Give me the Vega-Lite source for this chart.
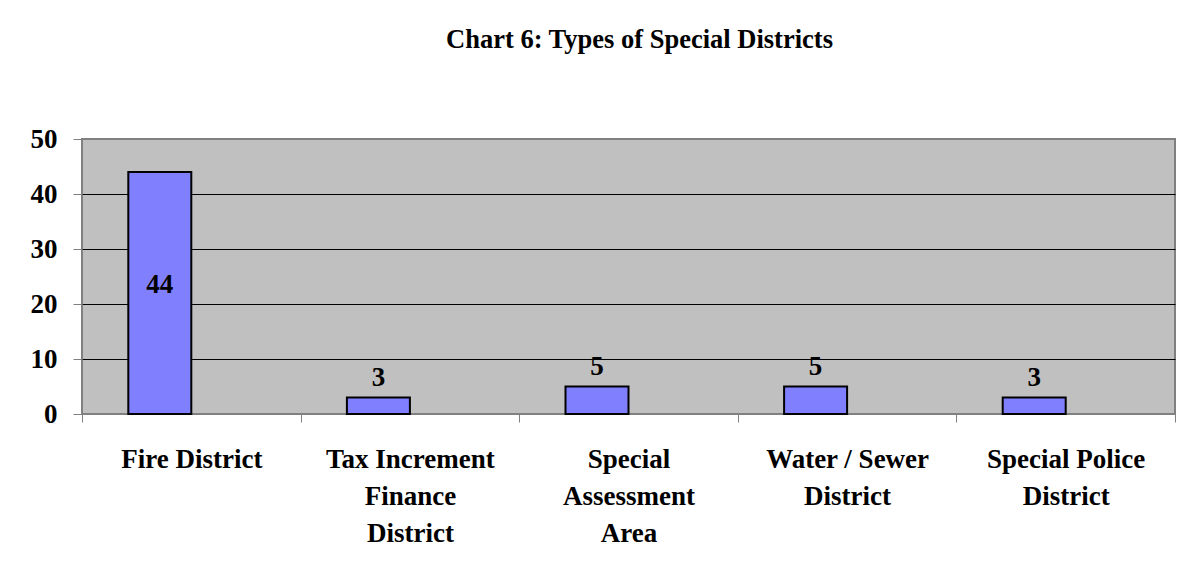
{
  "$schema": "https://vega.github.io/schema/vega-lite/v6.json",
  "width": 1093,
  "height": 275,
  "autosize": "none",
  "padding": {"left": 82, "top": 139, "right": 10, "bottom": 151},
  "background": "white",
  "title": {
    "text": "Chart 6:  Types of Special Districts",
    "font": "Liberation Serif",
    "fontSize": 26.5,
    "fontWeight": "bold",
    "color": "black",
    "anchor": "middle",
    "baseline": "alphabetic",
    "offset": 51,
    "dx": 11
  },
  "data": {
    "values": [
      {"district": "Fire District", "series": "Series 1", "count": 44},
      {"district": "Tax Increment Finance District", "series": "Series 1", "count": 3},
      {"district": "Special Assessment Area", "series": "Series 1", "count": 5},
      {"district": "Water / Sewer District", "series": "Series 1", "count": 5},
      {"district": "Special Police District", "series": "Series 1", "count": 3}
    ]
  },
  "encoding": {
    "x": {
      "field": "district",
      "type": "nominal",
      "sort": null,
      "scale": {"paddingInner": 0, "paddingOuter": 0},
      "axis": {
        "title": null,
        "domain": false,
        "tickBand": "extent",
        "tickSize": 8,
        "tickColor": "#808080",
        "tickWidth": 1,
        "labelAngle": 0,
        "labelFont": "Liberation Serif",
        "labelFontSize": 27,
        "labelFontWeight": "bold",
        "labelColor": "black",
        "labelPadding": 24,
        "labelLineHeight": 37,
        "labelBaseline": "top",
        "labelLimit": 400,
        "labelOverlap": false,
        "labelBound": false,
        "labelExpr": "datum.value == 'Tax Increment Finance District' ? ['Tax Increment','Finance','District'] : datum.value == 'Special Assessment Area' ? ['Special','Assessment','Area'] : datum.value == 'Water / Sewer District' ? ['Water / Sewer','District'] : datum.value == 'Special Police District' ? ['Special Police','District'] : datum.label"
      }
    },
    "xOffset": {
      "field": "series",
      "type": "nominal",
      "scale": {"domain": ["Series 1", "Series 2"], "paddingInner": 0, "paddingOuter": 0.735}
    },
    "y": {
      "field": "count",
      "type": "quantitative",
      "scale": {"domain": [0, 50], "nice": false},
      "axis": {
        "title": null,
        "values": [0, 10, 20, 30, 40, 50],
        "domain": false,
        "tickSize": 9,
        "tickColor": "#808080",
        "tickWidth": 1,
        "labelFont": "Liberation Serif",
        "labelFontSize": 27,
        "labelFontWeight": "bold",
        "labelColor": "black",
        "labelPadding": 16,
        "grid": true,
        "gridColor": "black",
        "gridWidth": 1,
        "gridOpacity": {"condition": {"test": "datum.value === 0 || datum.value === 50", "value": 0}, "value": 1}
      }
    }
  },
  "layer": [
    {"mark": {"type": "bar", "fill": "#8080FF", "stroke": "black", "strokeWidth": 2}},
    {
      "transform": [{"filter": "datum.count >= 20"}],
      "mark": {"type": "text", "baseline": "middle", "align": "center", "dy": 113, "font": "Liberation Serif", "fontSize": 27, "fontWeight": "bold", "color": "black"},
      "encoding": {"text": {"field": "count", "type": "quantitative"}}
    },
    {
      "transform": [{"filter": "datum.count < 20"}],
      "mark": {"type": "text", "baseline": "middle", "align": "center", "dy": -20, "font": "Liberation Serif", "fontSize": 27, "fontWeight": "bold", "color": "black"},
      "encoding": {"text": {"field": "count", "type": "quantitative"}}
    }
  ],
  "config": {
    "view": {"fill": "#C0C0C0", "stroke": "#808080", "strokeWidth": 2}
  }
}
